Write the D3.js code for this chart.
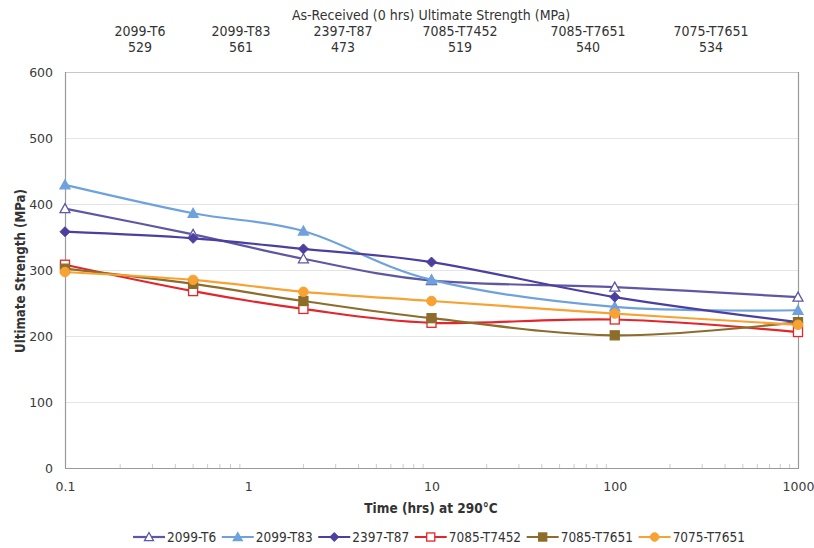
<!DOCTYPE html>
<html>
<head>
<meta charset="utf-8">
<script src="https://cdn.jsdelivr.net/npm/d3@7"></script>
<style>
  html, body { margin: 0; padding: 0; background: #fff; }
  svg { display: block; font-family: "DejaVu Sans Condensed", "DejaVu Sans", Verdana, sans-serif; }
</style>
</head>
<body>
<svg id="chart" width="814" height="548"></svg>
<script>
// ---- data ----
const times = [0.1, 0.5, 2, 10, 100, 1000];
const seriesNames = ["2099-T6", "2099-T83", "2397-T87", "7085-T7452", "7085-T7651", "7075-T7651"];
const s2099T6    = [393, 354, 317, 284, 274, 259];
const s2099T83   = [429, 386, 359, 285, 244, 239];
const s2397T87   = [358, 348, 332, 312, 259, 221];
const s7085T7452 = [308, 268, 241, 220, 225, 206];
const s7085T7651 = [302, 279, 253, 227, 201, 221];
const s7075T7651 = [297, 285, 267, 253, 234, 217];
const asReceived = [529, 561, 473, 519, 540, 534];
const yTicks = [0, 100, 200, 300, 400, 500, 600];
const xTicks = [0.1, 1, 10, 100, 1000];
const xTickLabels = ["0.1", "1", "10", "100", "1000"];

(function () {
const seriesValues = [s2099T6, s2099T83, s2397T87, s7085T7452, s7085T7651, s7075T7651];
const styles = [
  {color: "#5e57a3", marker: "triangle", filled: false},
  {color: "#6fa2dc", marker: "triangle", filled: true},
  {color: "#4b3f9f", marker: "diamond",  filled: true},
  {color: "#e3262b", marker: "square",   filled: false},
  {color: "#8c6d2c", marker: "square",   filled: true},
  {color: "#f7a233", marker: "circle",   filled: true}
];

const svg = d3.select("#chart");
const pLeft = 65, pRight = 798, pTop = 72, pBottom = 468;
const x = d3.scaleLog().domain([0.1, 1000]).range([pLeft, pRight]);
const y = d3.scaleLinear().domain([0, 600]).range([pBottom, pTop]);

// gridlines
svg.append("g")
  .selectAll("line").data(yTicks.filter(v => v > 0 && v < 600)).enter()
  .append("line")
  .attr("x1", pLeft).attr("x2", pRight)
  .attr("y1", d => y(d) + 0.5).attr("y2", d => y(d) + 0.5)
  .attr("stroke", "#e4e4e4").attr("stroke-width", 1);

// minor ticks on x axis
const minor = [];
for (let e = -1; e < 3; e++) for (let k = 2; k <= 9; k++) minor.push(k * Math.pow(10, e));
svg.append("g").selectAll("line").data(minor).enter().append("line")
  .attr("x1", d => x(d)).attr("x2", d => x(d))
  .attr("y1", pBottom).attr("y2", pBottom - 4)
  .attr("stroke", "#cccccc").attr("stroke-width", 1);

// plot border
svg.append("line").attr("x1", pLeft).attr("x2", pRight).attr("y1", pTop + 0.5).attr("y2", pTop + 0.5).attr("stroke", "#c8c8c8");
svg.append("line").attr("x1", pLeft + 0.5).attr("x2", pLeft + 0.5).attr("y1", pTop).attr("y2", pBottom).attr("stroke", "#9a9a9a").attr("stroke-width", 1.2);
svg.append("line").attr("x1", pRight + 0.5).attr("x2", pRight + 0.5).attr("y1", pTop).attr("y2", pBottom).attr("stroke", "#9a9a9a").attr("stroke-width", 1.2);
svg.append("line").attr("x1", pLeft).attr("x2", pRight + 1).attr("y1", pBottom + 0.5).attr("y2", pBottom + 0.5).attr("stroke", "#9a9a9a").attr("stroke-width", 1.2);

// axes (labels only)
const yAxis = svg.append("g").attr("transform", `translate(${pLeft},0)`)
  .call(d3.axisLeft(y).tickValues(yTicks).tickSize(0).tickPadding(12).tickFormat(d3.format("d")));
yAxis.select(".domain").remove();
yAxis.selectAll("text").attr("font-size", 12.5).attr("fill", "#3a3a3a")
  .attr("font-family", "DejaVu Sans, Verdana, sans-serif");

const xAxis = svg.append("g").attr("transform", `translate(0,${pBottom})`)
  .call(d3.axisBottom(x).tickValues(xTicks).tickSize(0).tickPadding(14).tickFormat((d, i) => xTickLabels[i]));
xAxis.select(".domain").remove();
xAxis.selectAll("text").attr("font-size", 12.5).attr("fill", "#3a3a3a")
  .attr("font-family", "DejaVu Sans, Verdana, sans-serif");

// axis titles
svg.append("text").attr("x", 431).attr("y", 513).attr("text-anchor", "middle")
  .attr("font-size", 13.5).attr("font-weight", "bold").attr("fill", "#333")
  .text("Time (hrs) at 290°C");
svg.append("text").attr("transform", "translate(25,271) rotate(-90)").attr("text-anchor", "middle")
  .attr("font-size", 13.2).attr("font-weight", "bold").attr("fill", "#333")
  .text("Ultimate Strength (MPa)");

// header
const headerX = [140, 241, 343, 460, 588, 711];
svg.append("text").attr("x", 431).attr("y", 20).attr("text-anchor", "middle")
  .attr("font-size", 14).attr("fill", "#333").text("As-Received (0 hrs) Ultimate Strength (MPa)");
svg.append("g").selectAll("text").data(seriesNames).enter().append("text")
  .attr("x", (d, i) => headerX[i]).attr("y", 36).attr("text-anchor", "middle")
  .attr("font-size", 14).attr("fill", "#333").text(d => d);
svg.append("g").selectAll("text").data(asReceived).enter().append("text")
  .attr("x", (d, i) => headerX[i]).attr("y", 52).attr("text-anchor", "middle")
  .attr("font-size", 14).attr("fill", "#333").text(d => d);

// markers
function drawMarker(g, type, cx, cy, color, filled, s) {
  const fill = filled ? color : "#fff";
  if (type === "triangle") {
    g.append("path").attr("d", `M${cx},${cy - s}L${cx + s},${cy + s * 0.8}L${cx - s},${cy + s * 0.8}Z`)
      .attr("fill", fill).attr("stroke", color).attr("stroke-width", 1.3);
  } else if (type === "diamond") {
    g.append("path").attr("d", `M${cx},${cy - s}L${cx + s},${cy}L${cx},${cy + s}L${cx - s},${cy}Z`)
      .attr("fill", fill).attr("stroke", color).attr("stroke-width", 1);
  } else if (type === "square") {
    g.append("rect").attr("x", cx - s * 0.9).attr("y", cy - s * 0.9).attr("width", s * 1.8).attr("height", s * 1.8)
      .attr("fill", fill).attr("stroke", color).attr("stroke-width", 1.3);
  } else {
    g.append("circle").attr("cx", cx).attr("cy", cy).attr("r", s * 0.95)
      .attr("fill", fill).attr("stroke", color).attr("stroke-width", 1);
  }
}

const line = d3.line().x(d => x(d[0])).y(d => y(d[1])).curve(d3.curveCatmullRom.alpha(0));

seriesValues.forEach((vals, i) => {
  const st = styles[i];
  const pts = times.map((t, j) => [t, vals[j]]);
  svg.append("path").datum(pts).attr("d", line)
    .attr("fill", "none").attr("stroke", st.color).attr("stroke-width", 2.2);
});
seriesValues.forEach((vals, i) => {
  const st = styles[i];
  const g = svg.append("g");
  times.forEach((t, j) => drawMarker(g, st.marker, x(t), y(vals[j]), st.color, st.filled, 5));
});

// legend
const legendY = 537;
const legend = svg.append("g");
const legStart = 133, legEnd = 745, symLen = 32, textGap = 2;
const texts = seriesNames.map(name => legend.append("text").attr("y", legendY + 5)
  .attr("font-size", 13.5).attr("fill", "#333").text(name));
const widths = texts.map(t => t.node().getComputedTextLength());
const used = widths.reduce((a, b) => a + b, 0) + seriesNames.length * (symLen + textGap);
const gap = (legEnd - legStart - used) / (seriesNames.length - 1);
let lx = legStart;
seriesNames.forEach((name, i) => {
  const st = styles[i];
  legend.append("line").attr("x1", lx).attr("x2", lx + symLen).attr("y1", legendY).attr("y2", legendY)
    .attr("stroke", st.color).attr("stroke-width", 2.2);
  drawMarker(legend, st.marker, lx + symLen / 2, legendY, st.color, st.filled, 4.5);
  texts[i].attr("x", lx + symLen + textGap);
  lx += symLen + textGap + widths[i] + gap;
});
})();
</script>
</body>
</html>
